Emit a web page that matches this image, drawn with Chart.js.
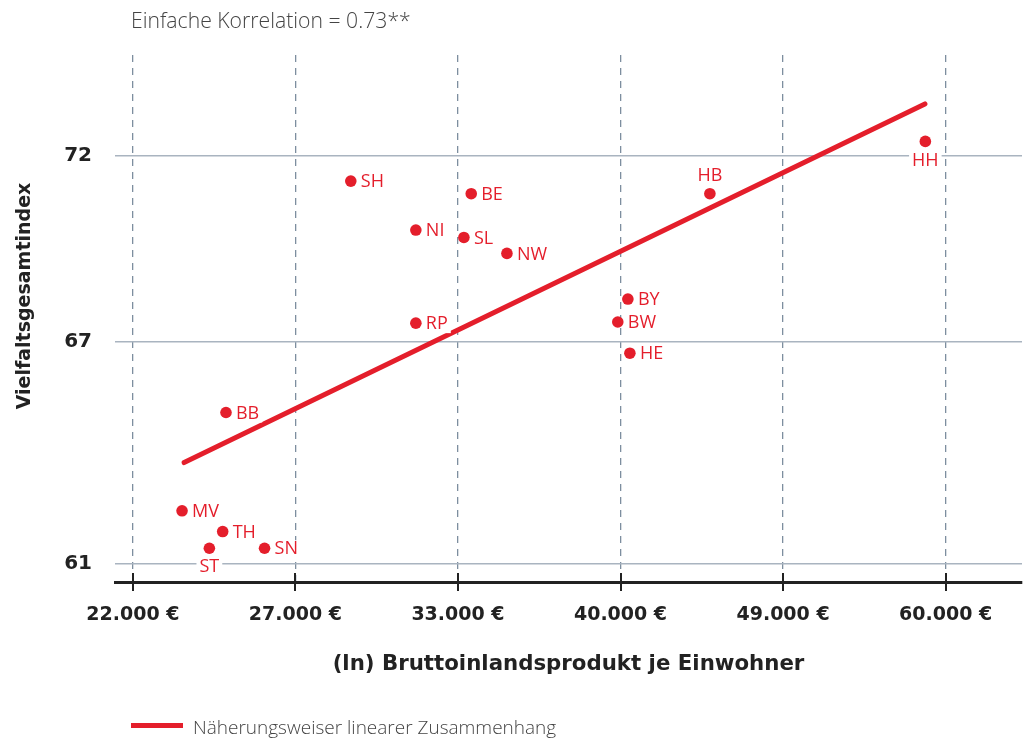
<!DOCTYPE html>
<html lang="de">
<head>
<meta charset="utf-8">
<title>Vielfaltsgesamtindex und BIP je Einwohner</title>
<script src="https://cdn.jsdelivr.net/npm/chart.js@4.4.0/dist/chart.umd.min.js"></script>
<style>
  html, body { margin: 0; padding: 0; background: #fff; }
  #wrap { position: relative; width: 1029px; height: 742px; }
  #titel { position: absolute; left: 131px; top: 5px; font: 300 21.2px 'Open Sans', sans-serif; color: #444; white-space: nowrap; }
  #legende { position: absolute; left: 131px; top: 714px; font: 300 19px 'Open Sans', sans-serif; color: #444; white-space: nowrap; }
  #legende span.linie { display: inline-block; width: 52px; height: 5px; background: #e41e2b; vertical-align: middle; margin-right: 10px; position: relative; top: -3px; }
  canvas { position: absolute; left: 0; top: 0; }
</style>
</head>
<body>
<div id="wrap">
  <canvas id="myChart" width="1029" height="742"></canvas>
  <div id="titel">Einfache Korrelation = 0.73**</div>
  <div id="legende"><span class="linie"></span>Näherungsweiser linearer Zusammenhang</div>
</div>
<script>
'use strict'

// Bundeslaender
const laender = ['SH', 'BE', 'NI', 'SL', 'NW', 'HB', 'HH', 'BY', 'BW', 'HE', 'RP', 'BB', 'MV', 'TH', 'ST', 'SN']
// BIP je Einwohner in Euro
const bipJeEinwohner = [28800, 33400, 31200, 33100, 34900, 44800, 58400, 40500, 40000, 40600, 31200, 24700, 23400, 24600, 24200, 25900]
// Vielfaltsgesamtindex
const vielfaltsindex = [71.32, 70.98, 70.00, 69.80, 69.37, 70.98, 72.39, 68.14, 67.52, 66.68, 67.49, 65.08, 62.43, 61.87, 61.42, 61.42]

// Naeherungsweiser linearer Zusammenhang (Anfang / Ende)
const trendBip = [23460, 58370]
const trendIndex = [63.73, 73.40]

// Achsen
const xTickLn = [10, 10.2, 10.4, 10.6, 10.8, 11]
const xTickLabels = ['22.000 €', '27.000 €', '33.000 €', '40.000 €', '49.000 €', '60.000 €']
const yTicks = [61, 67, 72]

const labelSeite = { HB: 'oben', HH: 'unten', ST: 'unten' }

const rot = '#e41e2b'
const ctx = document.getElementById('myChart')

const punkte = laender.map((land, i) => ({ x: Math.log(bipJeEinwohner[i]), y: vielfaltsindex[i] }))
const trend = trendBip.map((bip, i) => ({ x: Math.log(bip), y: trendIndex[i] }))

const extras = {
  id: 'extras',
  afterDatasetsDraw(chart) {
    const c = chart.ctx
    const area = chart.chartArea
    const xs = chart.scales.x

    c.save()
    // Teilstriche auf der x-Achse
    c.strokeStyle = '#222'
    c.lineWidth = 2
    xTickLn.forEach((v) => {
      const px = Math.round(xs.getPixelForValue(v))
      c.beginPath()
      c.moveTo(px, area.bottom - 9)
      c.lineTo(px, area.bottom + 9)
      c.stroke()
    })

    // Beschriftung der Punkte
    c.font = '18px "Open Sans", sans-serif'
    c.textBaseline = 'middle'
    const meta = chart.getDatasetMeta(1)
    meta.data.forEach((pt, i) => {
      const name = laender[i]
      const seite = labelSeite[name] || 'rechts'
      const w = c.measureText(name).width
      let tx, ty
      if (seite === 'rechts') {
        tx = pt.x + 10
        ty = pt.y + 1
      } else if (seite === 'oben') {
        tx = pt.x - w / 2
        ty = pt.y - 18
      } else {
        tx = pt.x - w / 2
        ty = pt.y + 19
      }
      c.fillStyle = '#fff'
      c.fillRect(tx - 3, ty - 9, w + 6, 18)
      c.fillStyle = rot
      c.textAlign = 'left'
      c.fillText(name, tx, ty)
    })

    // y-Achsentitel
    c.translate(25, 296)
    c.rotate(-Math.PI / 2)
    c.font = 'bold 19px "DejaVu Sans", sans-serif'
    c.fillStyle = '#222'
    c.textAlign = 'center'
    c.fillText('Vielfaltsgesamtindex', 0, 0)
    c.restore()
  }
}

const myChart = new Chart(ctx, {
  type: 'scatter',
  data: {
    datasets: [{
      type: 'line',
      label: 'Näherungsweiser linearer Zusammenhang',
      data: trend,
      borderColor: rot,
      borderWidth: 5,
      borderCapStyle: 'round',
      pointRadius: 0,
      fill: false
    }, {
      label: 'Bundesländer',
      data: punkte,
      backgroundColor: rot,
      borderWidth: 0,
      pointRadius: 5.8,
      pointHoverRadius: 5.8
    }]
  },
  options: {
    responsive: false,
    animation: false,
    events: [],
    layout: { padding: { top: 55, right: 7, bottom: 50, left: 0 } },
    plugins: {
      legend: { display: false },
      tooltip: { enabled: false }
    },
    scales: {
      x: {
        type: 'linear',
        min: 9.978,
        max: 11.094,
        afterBuildTicks: (scale) => { scale.ticks = xTickLn.map((v) => ({ value: v })) },
        afterFit: (scale) => { scale.height = 110 },
        grid: {
          color: '#7d8e9f',
          lineWidth: 1.3,
          drawTicks: false
        },
        border: { display: true, color: '#222', width: 3, dash: [7, 6] },
        ticks: {
          autoSkip: false,
          maxRotation: 0,
          padding: 22,
          color: '#222',
          font: { family: 'DejaVu Sans', size: 19, weight: 'bold' },
          callback: (v, i) => xTickLabels[i]
        },
        title: {
          display: true,
          text: '(ln) Bruttoinlandsprodukt je Einwohner',
          color: '#222',
          font: { family: 'DejaVu Sans', size: 21.3, weight: 'bold' },
          padding: { top: 0, bottom: 15 }
        }
      },
      y: {
        type: 'linear',
        min: 60.51,
        max: 74.72,
        afterBuildTicks: (scale) => { scale.ticks = yTicks.map((v) => ({ value: v })) },
        afterFit: (scale) => { scale.width = 115 },
        grid: {
          color: '#a9b4c0',
          lineWidth: 1.5,
          drawTicks: false
        },
        border: { display: false },
        ticks: {
          padding: 23,
          color: '#222',
          font: { family: 'DejaVu Sans', size: 20, weight: 'bold' }
        }
      }
    }
  },
  plugins: [extras]
})
</script>
</body>
</html>
